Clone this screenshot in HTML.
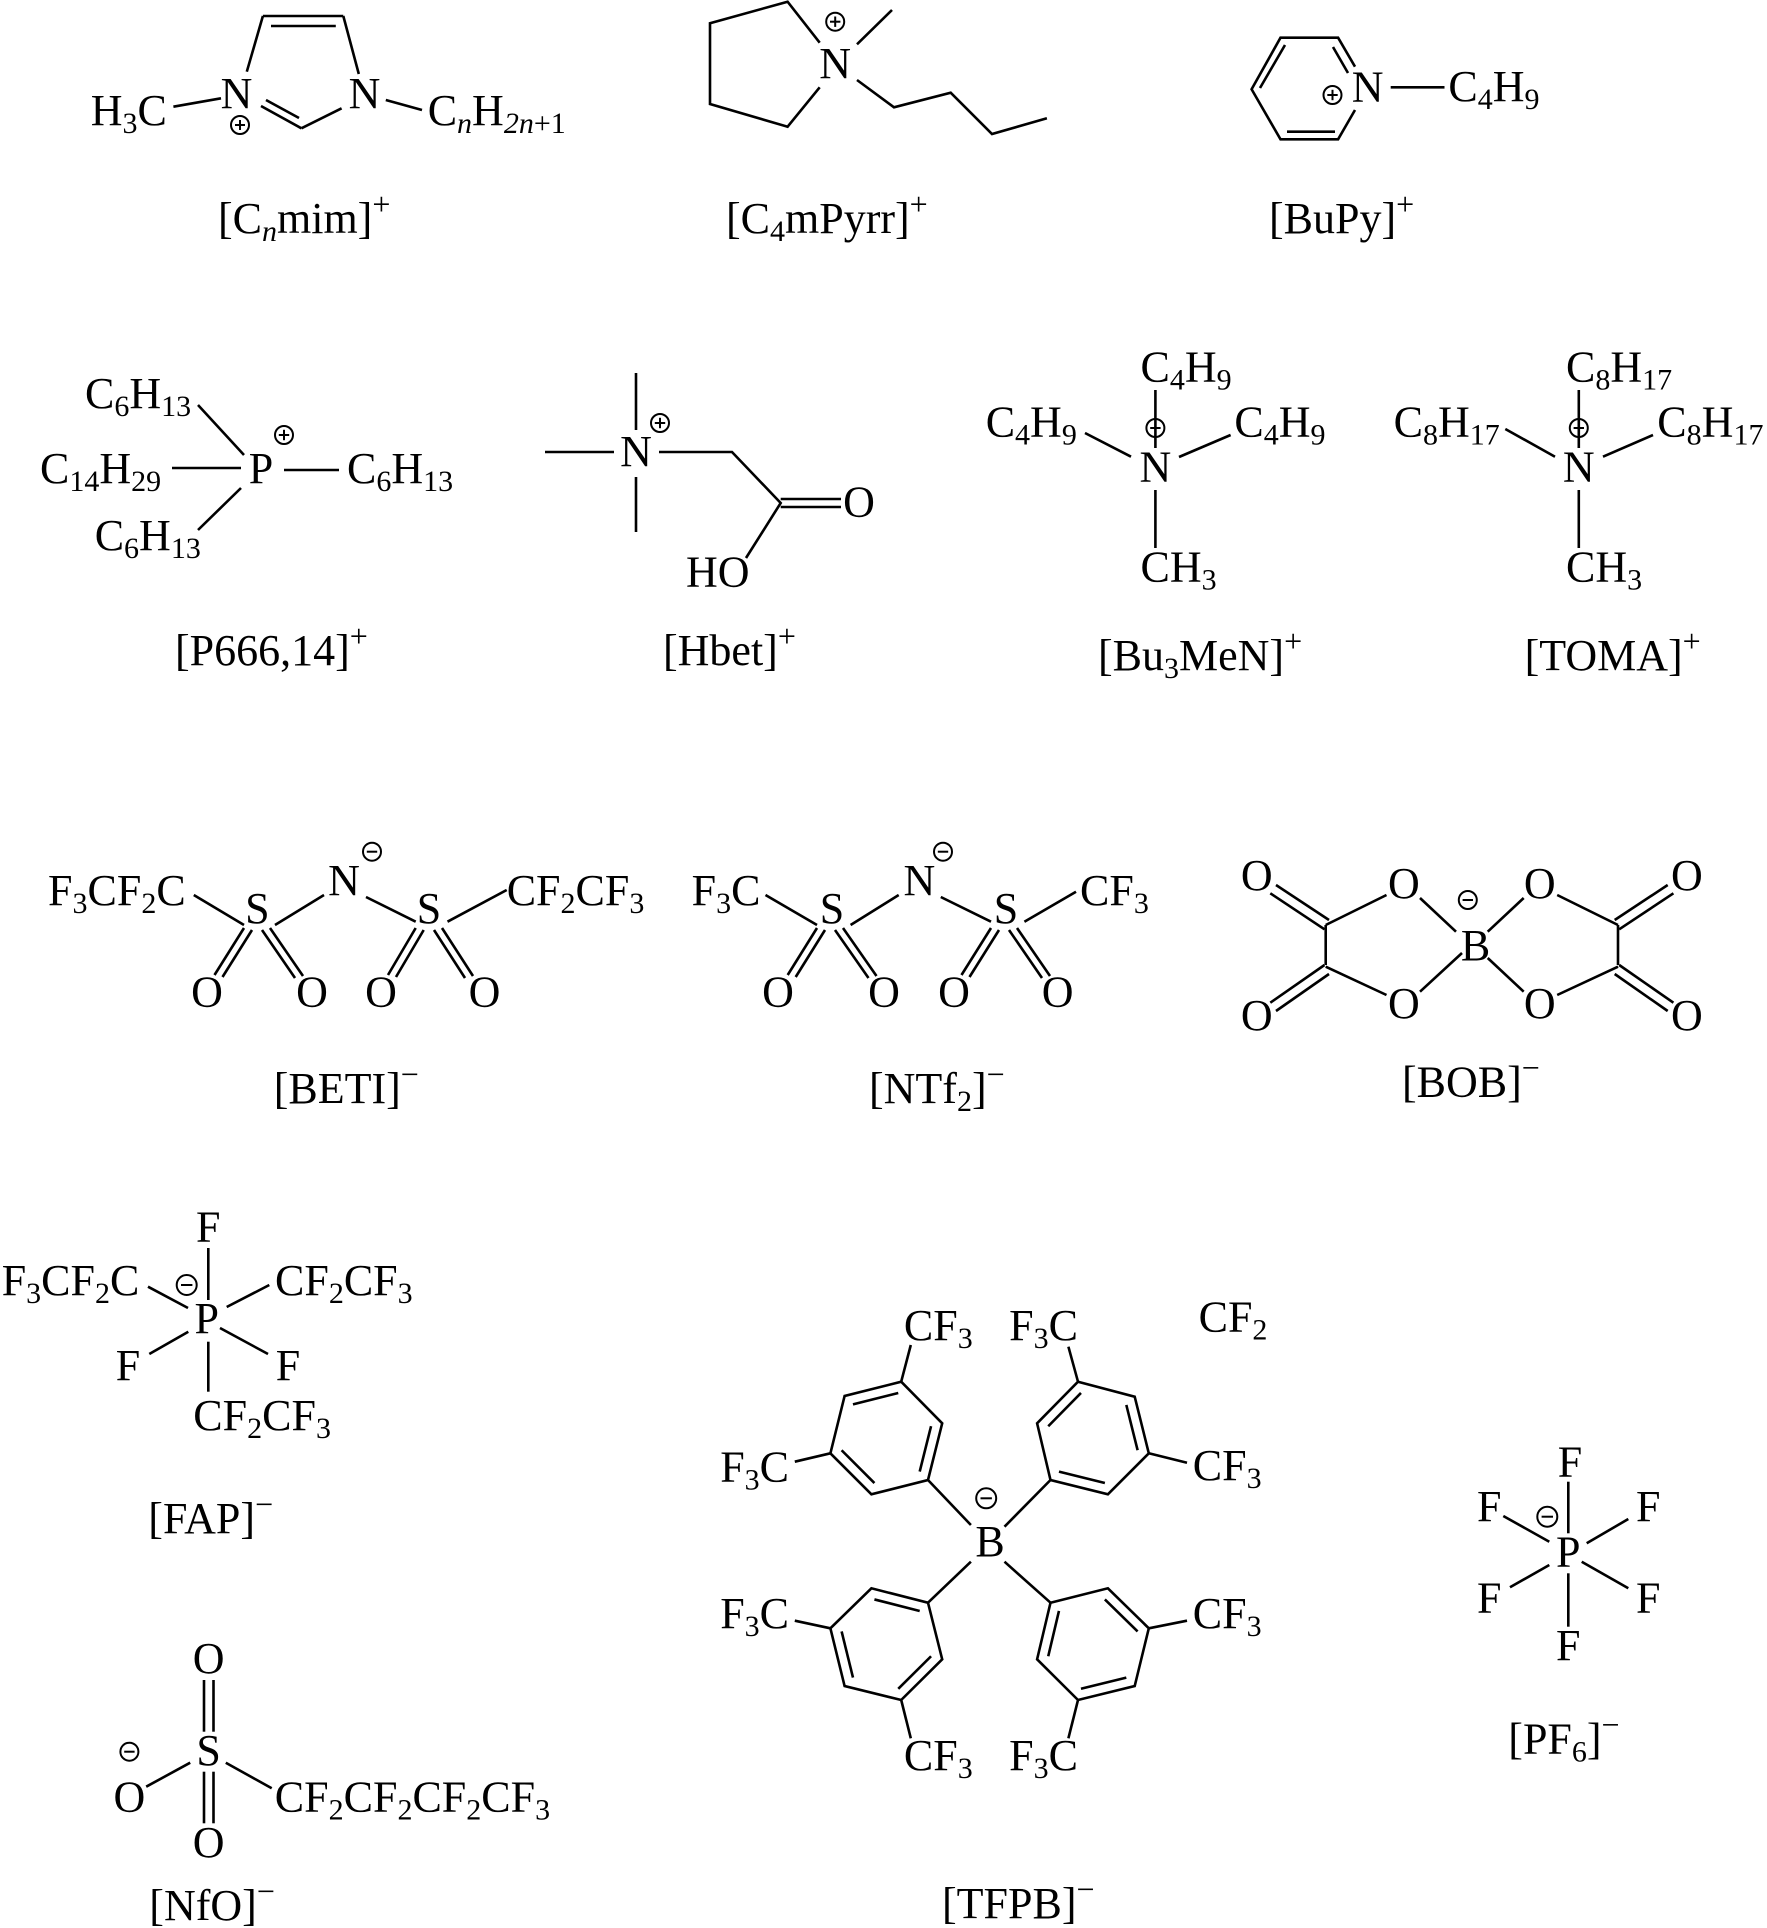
<!DOCTYPE html>
<html><head><meta charset="utf-8"><style>
html,body{margin:0;padding:0;background:#fff;}
svg{display:block;}
text{font-family:"Liberation Serif","DejaVu Serif",serif;font-size:44px;fill:#000;}
.s{font-size:30px;}
.p{font-size:32px;}
.i{font-style:italic;}
line,polyline,polygon{stroke:#000;stroke-width:2.6;fill:none;stroke-linecap:butt;}
circle{stroke:#000;stroke-width:2;fill:none;}
</style></head><body>
<svg width="1767" height="1928" viewBox="0 0 1767 1928" xmlns="http://www.w3.org/2000/svg">

<!-- ===== [Cnmim]+ ===== -->
<line x1="246.8" y1="71.7" x2="262.9" y2="16"/>
<line x1="262.9" y1="16" x2="343.3" y2="16"/>
<line x1="271" y1="26" x2="335.8" y2="26"/>
<line x1="343.3" y1="16" x2="358.8" y2="74"/>
<line x1="301.4" y1="128.3" x2="341.6" y2="108.3"/>
<line x1="301.4" y1="128.3" x2="261" y2="106"/>
<line x1="299" y1="118" x2="266" y2="100"/>
<line x1="173.4" y1="106.7" x2="221" y2="98.3"/>
<line x1="385.8" y1="100" x2="422" y2="110"/>
<text x="236.5" y="108" text-anchor="middle">N</text>
<text x="364.5" y="108" text-anchor="middle">N</text>
<text x="90.7" y="125">H<tspan class="s" dy="8">3</tspan><tspan dy="-8">C</tspan></text>
<text x="427.7" y="125">C<tspan class="s i" dy="8">n</tspan><tspan dy="-8">H</tspan><tspan class="s" dy="8"><tspan class="i">2n</tspan>+1</tspan></text>
<circle cx="240" cy="125" r="9"/><line x1="235" y1="125" x2="245" y2="125" style="stroke-width:2"/><line x1="240" y1="120" x2="240" y2="130" style="stroke-width:2"/>
<text x="218" y="233">[C<tspan class="s i" dy="8">n</tspan><tspan dy="-8">mim]</tspan><tspan class="p" dy="-18">+</tspan></text>

<!-- ===== [C4mPyrr]+ ===== -->
<polyline points="819.7,42.7 787.6,1.7 710,23.3 710,104 787.6,126.7 819.7,87.3"/>
<text x="835.2" y="78" text-anchor="middle">N</text>
<circle cx="835.2" cy="21.7" r="9"/><line x1="830" y1="21.7" x2="840.4" y2="21.7" style="stroke-width:2"/><line x1="835.2" y1="16.5" x2="835.2" y2="26.9" style="stroke-width:2"/>
<line x1="857" y1="44.3" x2="892" y2="10"/>
<polyline points="857,80 894,107.3 950.7,92.7 992,134 1046.9,118.3"/>
<text x="726" y="233">[C<tspan class="s" dy="8">4</tspan><tspan dy="-8">mPyrr]</tspan><tspan class="p" dy="-18">+</tspan></text>

<!-- ===== [BuPy]+ ===== -->
<polyline points="1355,66.7 1338.1,37.7 1280.5,37.7 1251.6,89.3 1280.5,139.3 1338.1,139.3 1355,110"/>
<line x1="1260" y1="88" x2="1285" y2="45"/>
<line x1="1333" y1="47" x2="1348" y2="73"/>
<line x1="1287" y1="131.7" x2="1335" y2="131.7"/>
<text x="1367.6" y="101.7" text-anchor="middle">N</text>
<circle cx="1332.5" cy="95" r="9"/><line x1="1327.3" y1="95" x2="1337.7" y2="95" style="stroke-width:2"/><line x1="1332.5" y1="89.8" x2="1332.5" y2="100.2" style="stroke-width:2"/>
<line x1="1390.7" y1="87.3" x2="1444.5" y2="87.3"/>
<text x="1448.4" y="101">C<tspan class="s" dy="8">4</tspan><tspan dy="-8">H</tspan><tspan class="s" dy="8">9</tspan></text>
<text x="1269" y="233">[BuPy]<tspan class="p" dy="-18">+</tspan></text>

<!-- ===== [P666,14]+ ===== -->
<text x="85" y="408">C<tspan class="s" dy="8">6</tspan><tspan dy="-8">H</tspan><tspan class="s" dy="8">13</tspan></text>
<line x1="198" y1="405" x2="244" y2="455"/>
<text x="261" y="483" text-anchor="middle">P</text>
<circle cx="284" cy="435" r="9"/><line x1="278.8" y1="435" x2="289.2" y2="435" style="stroke-width:2"/><line x1="284" y1="429.8" x2="284" y2="440.2" style="stroke-width:2"/>
<text x="40" y="483">C<tspan class="s" dy="8">14</tspan><tspan dy="-8">H</tspan><tspan class="s" dy="8">29</tspan></text>
<line x1="172" y1="468" x2="241" y2="468"/>
<line x1="284" y1="470" x2="339" y2="470"/>
<text x="347" y="483">C<tspan class="s" dy="8">6</tspan><tspan dy="-8">H</tspan><tspan class="s" dy="8">13</tspan></text>
<line x1="241" y1="488" x2="198" y2="530"/>
<text x="94.7" y="550">C<tspan class="s" dy="8">6</tspan><tspan dy="-8">H</tspan><tspan class="s" dy="8">13</tspan></text>
<text x="175" y="665">[P666,14]<tspan class="p" dy="-18">+</tspan></text>

<!-- ===== [Hbet]+ ===== -->
<line x1="636" y1="373" x2="636" y2="430"/>
<line x1="545" y1="452" x2="614" y2="452"/>
<line x1="636" y1="477" x2="636" y2="532"/>
<text x="636" y="466" text-anchor="middle">N</text>
<circle cx="660" cy="423" r="9"/><line x1="654.8" y1="423" x2="665.2" y2="423" style="stroke-width:2"/><line x1="660" y1="417.8" x2="660" y2="428.2" style="stroke-width:2"/>
<polyline points="659,452 732,452 780.7,503 746,558"/>
<line x1="780.7" y1="499" x2="841" y2="499"/>
<line x1="780.7" y1="507" x2="841" y2="507"/>
<text x="859" y="516.7" text-anchor="middle">O</text>
<text x="686" y="586.7">HO</text>
<text x="663" y="665">[Hbet]<tspan class="p" dy="-18">+</tspan></text>

<!-- ===== [Bu3MeN]+ ===== -->
<text x="1140.5" y="381.7">C<tspan class="s" dy="8">4</tspan><tspan dy="-8">H</tspan><tspan class="s" dy="8">9</tspan></text>
<line x1="1155.4" y1="390" x2="1155.4" y2="448"/>
<circle cx="1155.4" cy="428" r="9"/><line x1="1150.2" y1="428" x2="1160.6" y2="428" style="stroke-width:2"/>
<text x="1155.4" y="481.7" text-anchor="middle">N</text>
<text x="985.7" y="436.7">C<tspan class="s" dy="8">4</tspan><tspan dy="-8">H</tspan><tspan class="s" dy="8">9</tspan></text>
<line x1="1085" y1="433" x2="1131" y2="456.7"/>
<line x1="1179" y1="457" x2="1230.6" y2="435"/>
<text x="1234.4" y="436.7">C<tspan class="s" dy="8">4</tspan><tspan dy="-8">H</tspan><tspan class="s" dy="8">9</tspan></text>
<line x1="1155.4" y1="490" x2="1155.4" y2="548"/>
<text x="1140.5" y="581.7">CH<tspan class="s" dy="8">3</tspan></text>
<text x="1098" y="670">[Bu<tspan class="s" dy="8">3</tspan><tspan dy="-8">MeN]</tspan><tspan class="p" dy="-18">+</tspan></text>

<!-- ===== [TOMA]+ ===== -->
<text x="1566" y="381.7">C<tspan class="s" dy="8">8</tspan><tspan dy="-8">H</tspan><tspan class="s" dy="8">17</tspan></text>
<line x1="1578.8" y1="390" x2="1578.8" y2="448"/>
<circle cx="1578.8" cy="428" r="9"/><line x1="1573.6" y1="428" x2="1584" y2="428" style="stroke-width:2"/>
<text x="1578.8" y="481.7" text-anchor="middle">N</text>
<text x="1393.6" y="436.7">C<tspan class="s" dy="8">8</tspan><tspan dy="-8">H</tspan><tspan class="s" dy="8">17</tspan></text>
<line x1="1505.3" y1="429" x2="1555" y2="456.7"/>
<line x1="1603" y1="456.7" x2="1653" y2="435"/>
<text x="1657.3" y="436.7">C<tspan class="s" dy="8">8</tspan><tspan dy="-8">H</tspan><tspan class="s" dy="8">17</tspan></text>
<line x1="1578.8" y1="490" x2="1578.8" y2="548"/>
<text x="1566" y="581.7">CH<tspan class="s" dy="8">3</tspan></text>
<text x="1524.6" y="670">[TOMA]<tspan class="p" dy="-18">+</tspan></text>

<!-- ===== [BETI]- ===== -->
<text x="48" y="905">F<tspan class="s" dy="8">3</tspan><tspan dy="-8">CF</tspan><tspan class="s" dy="8">2</tspan><tspan dy="-8">C</tspan></text>
<line x1="193.8" y1="895" x2="244" y2="925"/>
<text x="257.4" y="923" text-anchor="middle">S</text>
<line x1="275" y1="925" x2="324" y2="895"/>
<text x="344" y="895" text-anchor="middle">N</text>
<circle cx="372" cy="851.7" r="9"/><line x1="366.8" y1="851.7" x2="377.2" y2="851.7" style="stroke-width:2"/>
<line x1="366" y1="897" x2="415.7" y2="921.7"/>
<text x="429" y="923" text-anchor="middle">S</text>
<line x1="447.5" y1="921.7" x2="506.7" y2="890"/>
<text x="506.7" y="905">CF<tspan class="s" dy="8">2</tspan><tspan dy="-8">CF</tspan><tspan class="s" dy="8">3</tspan></text>
<line x1="244" y1="928" x2="214.5" y2="975"/><line x1="252" y1="930" x2="222.5" y2="977"/>
<line x1="262" y1="930" x2="295" y2="978"/><line x1="270" y1="928" x2="303" y2="976"/>
<line x1="415.7" y1="928" x2="388" y2="975"/><line x1="423.7" y1="930" x2="396" y2="977"/>
<line x1="434" y1="930" x2="465" y2="978"/><line x1="442" y1="928" x2="473" y2="976"/>
<text x="207" y="1006.7" text-anchor="middle">O</text>
<text x="312" y="1006.7" text-anchor="middle">O</text>
<text x="381" y="1006.7" text-anchor="middle">O</text>
<text x="484.5" y="1006.7" text-anchor="middle">O</text>
<text x="273.7" y="1103">[BETI]<tspan class="p" dy="-18">−</tspan></text>

<!-- ===== [NTf2]- ===== -->
<text x="691.6" y="905">F<tspan class="s" dy="8">3</tspan><tspan dy="-8">C</tspan></text>
<line x1="765.5" y1="895" x2="817" y2="925"/>
<text x="832" y="923" text-anchor="middle">S</text>
<line x1="850.6" y1="925" x2="898.7" y2="895"/>
<text x="919.4" y="895" text-anchor="middle">N</text>
<circle cx="943" cy="851.7" r="9"/><line x1="937.8" y1="851.7" x2="948.2" y2="851.7" style="stroke-width:2"/>
<line x1="940.8" y1="897" x2="991" y2="921.7"/>
<text x="1006" y="923" text-anchor="middle">S</text>
<line x1="1024.4" y1="921.7" x2="1076" y2="891.7"/>
<text x="1080" y="905">CF<tspan class="s" dy="8">3</tspan></text>
<line x1="817" y1="928" x2="787.7" y2="975"/><line x1="825" y1="930" x2="795.7" y2="977"/>
<line x1="835" y1="930" x2="868.5" y2="978"/><line x1="843" y1="928" x2="876.5" y2="976"/>
<line x1="991" y1="928" x2="961.5" y2="975"/><line x1="999" y1="930" x2="969.5" y2="977"/>
<line x1="1009" y1="930" x2="1042" y2="978"/><line x1="1017" y1="928" x2="1050" y2="976"/>
<text x="778" y="1006.7" text-anchor="middle">O</text>
<text x="884" y="1006.7" text-anchor="middle">O</text>
<text x="954" y="1006.7" text-anchor="middle">O</text>
<text x="1057.7" y="1006.7" text-anchor="middle">O</text>
<text x="869" y="1103">[NTf<tspan class="s" dy="8">2</tspan><tspan dy="-8">]</tspan><tspan class="p" dy="-18">−</tspan></text>

<!-- ===== [BOB]- ===== -->
<g>
<line x1="1325.7" y1="925" x2="1325.7" y2="965"/>
<line x1="1325.7" y1="925" x2="1386.5" y2="895"/>
<line x1="1325.7" y1="966.7" x2="1386.5" y2="995"/>
<line x1="1420" y1="898" x2="1456" y2="931.7"/>
<line x1="1420" y1="991.7" x2="1462" y2="953"/>
<line x1="1270.3" y1="893.3" x2="1324.5" y2="929.3"/><line x1="1276" y1="885" x2="1329" y2="920"/>
<line x1="1270.3" y1="1002.7" x2="1324.5" y2="965"/><line x1="1276" y1="1011" x2="1329" y2="974"/>
<text x="1256.8" y="890" text-anchor="middle">O</text>
<text x="1256.8" y="1030" text-anchor="middle">O</text>
<text x="1403.9" y="898" text-anchor="middle">O</text>
<text x="1403.9" y="1018" text-anchor="middle">O</text>
</g>
<g transform="translate(2943.7,0) scale(-1,1)">
<line x1="1325.7" y1="925" x2="1325.7" y2="965"/>
<line x1="1325.7" y1="925" x2="1386.5" y2="895"/>
<line x1="1325.7" y1="966.7" x2="1386.5" y2="995"/>
<line x1="1420" y1="898" x2="1456" y2="931.7"/>
<line x1="1420" y1="991.7" x2="1456" y2="958"/>
<line x1="1270.3" y1="893.3" x2="1324.5" y2="929.3"/><line x1="1276" y1="885" x2="1329" y2="920"/>
<line x1="1270.3" y1="1002.7" x2="1324.5" y2="965"/><line x1="1276" y1="1011" x2="1329" y2="974"/>
</g>
<text x="1686.9" y="890" text-anchor="middle">O</text>
<text x="1686.9" y="1030" text-anchor="middle">O</text>
<text x="1539.8" y="898" text-anchor="middle">O</text>
<text x="1539.8" y="1018" text-anchor="middle">O</text>
<text x="1475.5" y="960" text-anchor="middle">B</text>
<circle cx="1467.8" cy="900" r="9"/><line x1="1462.6" y1="900" x2="1473" y2="900" style="stroke-width:2"/>
<text x="1402" y="1096.7">[BOB]<tspan class="p" dy="-18">−</tspan></text>

<!-- ===== [FAP]- ===== -->
<text x="208.3" y="1241.7" text-anchor="middle">F</text>
<line x1="208.3" y1="1248" x2="208.3" y2="1300"/>
<text x="206.7" y="1333" text-anchor="middle">P</text>
<text x="1.7" y="1295">F<tspan class="s" dy="8">3</tspan><tspan dy="-8">CF</tspan><tspan class="s" dy="8">2</tspan><tspan dy="-8">C</tspan></text>
<line x1="148" y1="1286.7" x2="188" y2="1308"/>
<circle cx="186.7" cy="1285" r="10"/><line x1="181" y1="1285" x2="192.4" y2="1285" style="stroke-width:2"/>
<line x1="226.7" y1="1307" x2="269.3" y2="1285"/>
<text x="275" y="1295">CF<tspan class="s" dy="8">2</tspan><tspan dy="-8">CF</tspan><tspan class="s" dy="8">3</tspan></text>
<text x="128" y="1380" text-anchor="middle">F</text>
<line x1="149.3" y1="1354" x2="188.3" y2="1331.7"/>
<text x="288" y="1380" text-anchor="middle">F</text>
<line x1="220" y1="1328" x2="268" y2="1354"/>
<line x1="208.3" y1="1341.7" x2="208.3" y2="1391.7"/>
<text x="193.3" y="1430">CF<tspan class="s" dy="8">2</tspan><tspan dy="-8">CF</tspan><tspan class="s" dy="8">3</tspan></text>
<text x="148.3" y="1533">[FAP]<tspan class="p" dy="-18">−</tspan></text>

<!-- ===== [NfO]- ===== -->
<text x="208.6" y="1673" text-anchor="middle">O</text>
<line x1="204" y1="1680" x2="204" y2="1731.7"/><line x1="213.5" y1="1680" x2="213.5" y2="1731.7"/>
<text x="208.6" y="1765" text-anchor="middle">S</text>
<line x1="204" y1="1771.7" x2="204" y2="1823.3"/><line x1="213.5" y1="1771.7" x2="213.5" y2="1823.3"/>
<text x="208.6" y="1857" text-anchor="middle">O</text>
<text x="129.4" y="1811.7" text-anchor="middle">O</text>
<circle cx="129.4" cy="1751.7" r="9"/><line x1="124.2" y1="1751.7" x2="134.6" y2="1751.7" style="stroke-width:2"/>
<line x1="146.2" y1="1786.7" x2="190.2" y2="1762.7"/>
<line x1="225.8" y1="1762.7" x2="271.7" y2="1788.3"/>
<text x="274.8" y="1811.7">CF<tspan class="s" dy="8">2</tspan><tspan dy="-8">CF</tspan><tspan class="s" dy="8">2</tspan><tspan dy="-8">CF</tspan><tspan class="s" dy="8">2</tspan><tspan dy="-8">CF</tspan><tspan class="s" dy="8">3</tspan></text>
<text x="149.3" y="1920">[NfO]<tspan class="p" dy="-18">−</tspan></text>

<!-- ===== [TFPB]- ===== -->
<polygon points="901.2,1381.7 942.2,1423.3 928,1480 871.4,1494.3 830.4,1453.3 844.6,1396"/>
<polygon points="1078,1381.7 1134.7,1396.7 1148.8,1453.3 1107.9,1494.3 1050.5,1480 1037.1,1423.3"/>
<polygon points="928,1602.7 942.2,1659.3 901.2,1700 844.6,1686 830.4,1628.3 871.4,1588.3"/>
<polygon points="1050.5,1602.7 1107.9,1588.3 1148.8,1628.3 1134.7,1686 1078,1700 1037.1,1659.3"/>
<g transform="translate(886.5,1438) scale(0.8) translate(-886.5,-1438)">
<line vector-effect="non-scaling-stroke" x1="844.6" y1="1396" x2="901.2" y2="1381.7"/>
<line vector-effect="non-scaling-stroke" x1="942.2" y1="1423.3" x2="928" y2="1480"/>
<line vector-effect="non-scaling-stroke" x1="830.4" y1="1453.3" x2="871.4" y2="1494.3"/>
</g>
<g transform="translate(1092.8,1438) scale(0.8) translate(-1092.8,-1438)">
<line vector-effect="non-scaling-stroke" x1="1037.1" y1="1423.3" x2="1078" y2="1381.7"/>
<line vector-effect="non-scaling-stroke" x1="1134.7" y1="1396.7" x2="1148.8" y2="1453.3"/>
<line vector-effect="non-scaling-stroke" x1="1050.5" y1="1480" x2="1107.9" y2="1494.3"/>
</g>
<g transform="translate(886.5,1644) scale(0.8) translate(-886.5,-1644)">
<line vector-effect="non-scaling-stroke" x1="871.4" y1="1588.3" x2="928" y2="1602.7"/>
<line vector-effect="non-scaling-stroke" x1="830.4" y1="1628.3" x2="844.6" y2="1686"/>
<line vector-effect="non-scaling-stroke" x1="901.2" y1="1700" x2="942.2" y2="1659.3"/>
</g>
<g transform="translate(1092.8,1644) scale(0.8) translate(-1092.8,-1644)">
<line vector-effect="non-scaling-stroke" x1="1107.9" y1="1588.3" x2="1148.8" y2="1628.3"/>
<line vector-effect="non-scaling-stroke" x1="1037.1" y1="1659.3" x2="1050.5" y2="1602.7"/>
<line vector-effect="non-scaling-stroke" x1="1078" y1="1700" x2="1134.7" y2="1686"/>
</g>
<line x1="928" y1="1480" x2="970.9" y2="1525"/>
<line x1="1050.5" y1="1480" x2="1004.5" y2="1526.7"/>
<line x1="928" y1="1602.7" x2="970.9" y2="1561.7"/>
<line x1="1050.5" y1="1602.7" x2="1004.5" y2="1561.7"/>
<text x="990" y="1556" text-anchor="middle">B</text>
<circle cx="986.2" cy="1498.3" r="10"/><line x1="980.5" y1="1498.3" x2="991.9" y2="1498.3" style="stroke-width:2"/>
<line x1="901.2" y1="1381.7" x2="910.8" y2="1345"/>
<text x="903.9" y="1340">CF<tspan class="s" dy="8">3</tspan></text>
<line x1="794.8" y1="1461.7" x2="830.4" y2="1453.3"/>
<text x="720.2" y="1481.7">F<tspan class="s" dy="8">3</tspan><tspan dy="-8">C</tspan></text>
<line x1="1078" y1="1381.7" x2="1068.4" y2="1346.7"/>
<text x="1009.1" y="1340">F<tspan class="s" dy="8">3</tspan><tspan dy="-8">C</tspan></text>
<line x1="1148.8" y1="1453.3" x2="1187" y2="1462.7"/>
<text x="1192.8" y="1480">CF<tspan class="s" dy="8">3</tspan></text>
<text x="1198.6" y="1331.7">CF<tspan class="s" dy="8">2</tspan></text>
<line x1="794.8" y1="1620.7" x2="830.4" y2="1628.3"/>
<text x="720.2" y="1628">F<tspan class="s" dy="8">3</tspan><tspan dy="-8">C</tspan></text>
<line x1="901.2" y1="1700" x2="910.8" y2="1738.3"/>
<text x="903.9" y="1770">CF<tspan class="s" dy="8">3</tspan></text>
<line x1="1148.8" y1="1628.3" x2="1187" y2="1620.7"/>
<text x="1192.8" y="1628">CF<tspan class="s" dy="8">3</tspan></text>
<line x1="1078" y1="1700" x2="1068.4" y2="1738.3"/>
<text x="1009.1" y="1770">F<tspan class="s" dy="8">3</tspan><tspan dy="-8">C</tspan></text>
<text x="942" y="1918">[TFPB]<tspan class="p" dy="-18">−</tspan></text>

<!-- ===== [PF6]- ===== -->
<text x="1568.3" y="1566.7" text-anchor="middle">P</text>
<text x="1570" y="1476.7" text-anchor="middle">F</text>
<line x1="1568.3" y1="1481.7" x2="1568.3" y2="1533.3"/>
<text x="1489.3" y="1521" text-anchor="middle">F</text>
<line x1="1503.3" y1="1516" x2="1549.3" y2="1541.7"/>
<text x="1648.3" y="1521" text-anchor="middle">F</text>
<line x1="1586.7" y1="1543.3" x2="1628.3" y2="1519"/>
<text x="1489.3" y="1612.7" text-anchor="middle">F</text>
<line x1="1510" y1="1587.3" x2="1549.3" y2="1565"/>
<text x="1648.3" y="1612.7" text-anchor="middle">F</text>
<line x1="1581.7" y1="1561.7" x2="1628.3" y2="1588.3"/>
<line x1="1568.3" y1="1573.3" x2="1568.3" y2="1626.7"/>
<text x="1568.3" y="1660" text-anchor="middle">F</text>
<circle cx="1547.3" cy="1516.7" r="10"/><line x1="1541.6" y1="1516.7" x2="1553" y2="1516.7" style="stroke-width:2"/>
<text x="1508.3" y="1753.3">[PF<tspan class="s" dy="8">6</tspan><tspan dy="-8">]</tspan><tspan class="p" dy="-18">−</tspan></text>

</svg>
</body></html>
